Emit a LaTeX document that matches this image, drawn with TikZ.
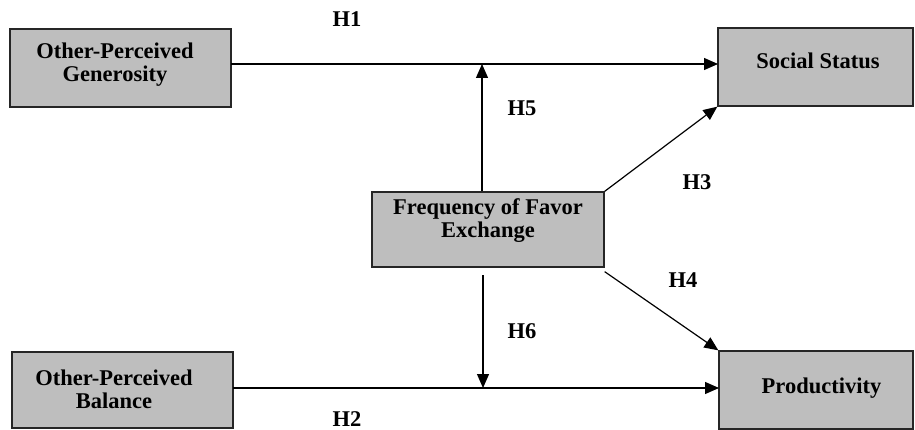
\documentclass[tikz,border=0pt]{standalone}
\usepackage{fontspec}
\setmainfont{Liberation Serif}
\usetikzlibrary{arrows.meta}
\definecolor{boxgray}{HTML}{BEBEBE}
\begin{document}
\begin{tikzpicture}[x=1pt,y=-1pt,
  box/.style={draw=black!85,line width=1.3pt,fill=boxgray,inner sep=0pt},
  btext/.style={align=center,inner sep=0pt,font=\fontsize{22.5}{23}\selectfont\bfseries},
  hlab/.style={font=\fontsize{22.5}{23}\selectfont\bfseries},
  conn/.style={line width=1.2pt,-{Triangle[length=14pt,width=12pt]}}]
\useasboundingbox (0,0) rectangle (915,430);
\node[box,minimum width=221pt,minimum height=78pt] (gen) at (120.5,68) {};
\node[box,minimum width=195pt,minimum height=78pt] (soc) at (815.5,67) {};
\node[box,minimum width=232pt,minimum height=75pt] (freq) at (488,229.5) {};
\node[box,minimum width=221pt,minimum height=76pt] (bal) at (122.5,390) {};
\node[box,minimum width=194pt,minimum height=78pt] (prod) at (816,390) {};
\node[btext] (tgen) at (115,64.5) {Other-Perceived\\Generosity};
\node[btext] (tsoc) at (818,61) {Social Status};
\node[btext] (tfreq) at (488,221) {Frequency of Favor\\Exchange};
\node[btext] (tbal) at (114,389) {Other-Perceived\\Balance};
\node[btext] (tprod) at (821.5,388) {Productivity};
\coordinate (g1) at (231,64);
\coordinate (s1) at (718,64);
\coordinate (m1) at (482,64);
\coordinate (b1) at (233,388);
\coordinate (p1) at (719,388);
\coordinate (m2) at (483,388);
\coordinate (f6) at (483,275);
\draw[conn] (g1) -- (s1);
\draw[conn] (freq.north -| m1) -- (m1);
\draw[conn] (freq.north east) -- (soc.south west);
\draw[conn] ([yshift=-4pt]freq.south east) -- (prod.north west);
\draw[conn] (b1) -- (p1);
\draw[conn] (f6) -- (m2);
\node[hlab] (h1) at (347,19) {H1};
\node[hlab] (h5) at (522,108) {H5};
\node[hlab] (h3) at (697,182) {H3};
\node[hlab] (h4) at (683,280) {H4};
\node[hlab] (h6) at (522,331) {H6};
\node[hlab] (h2) at (347,419) {H2};
\end{tikzpicture}
\end{document}
